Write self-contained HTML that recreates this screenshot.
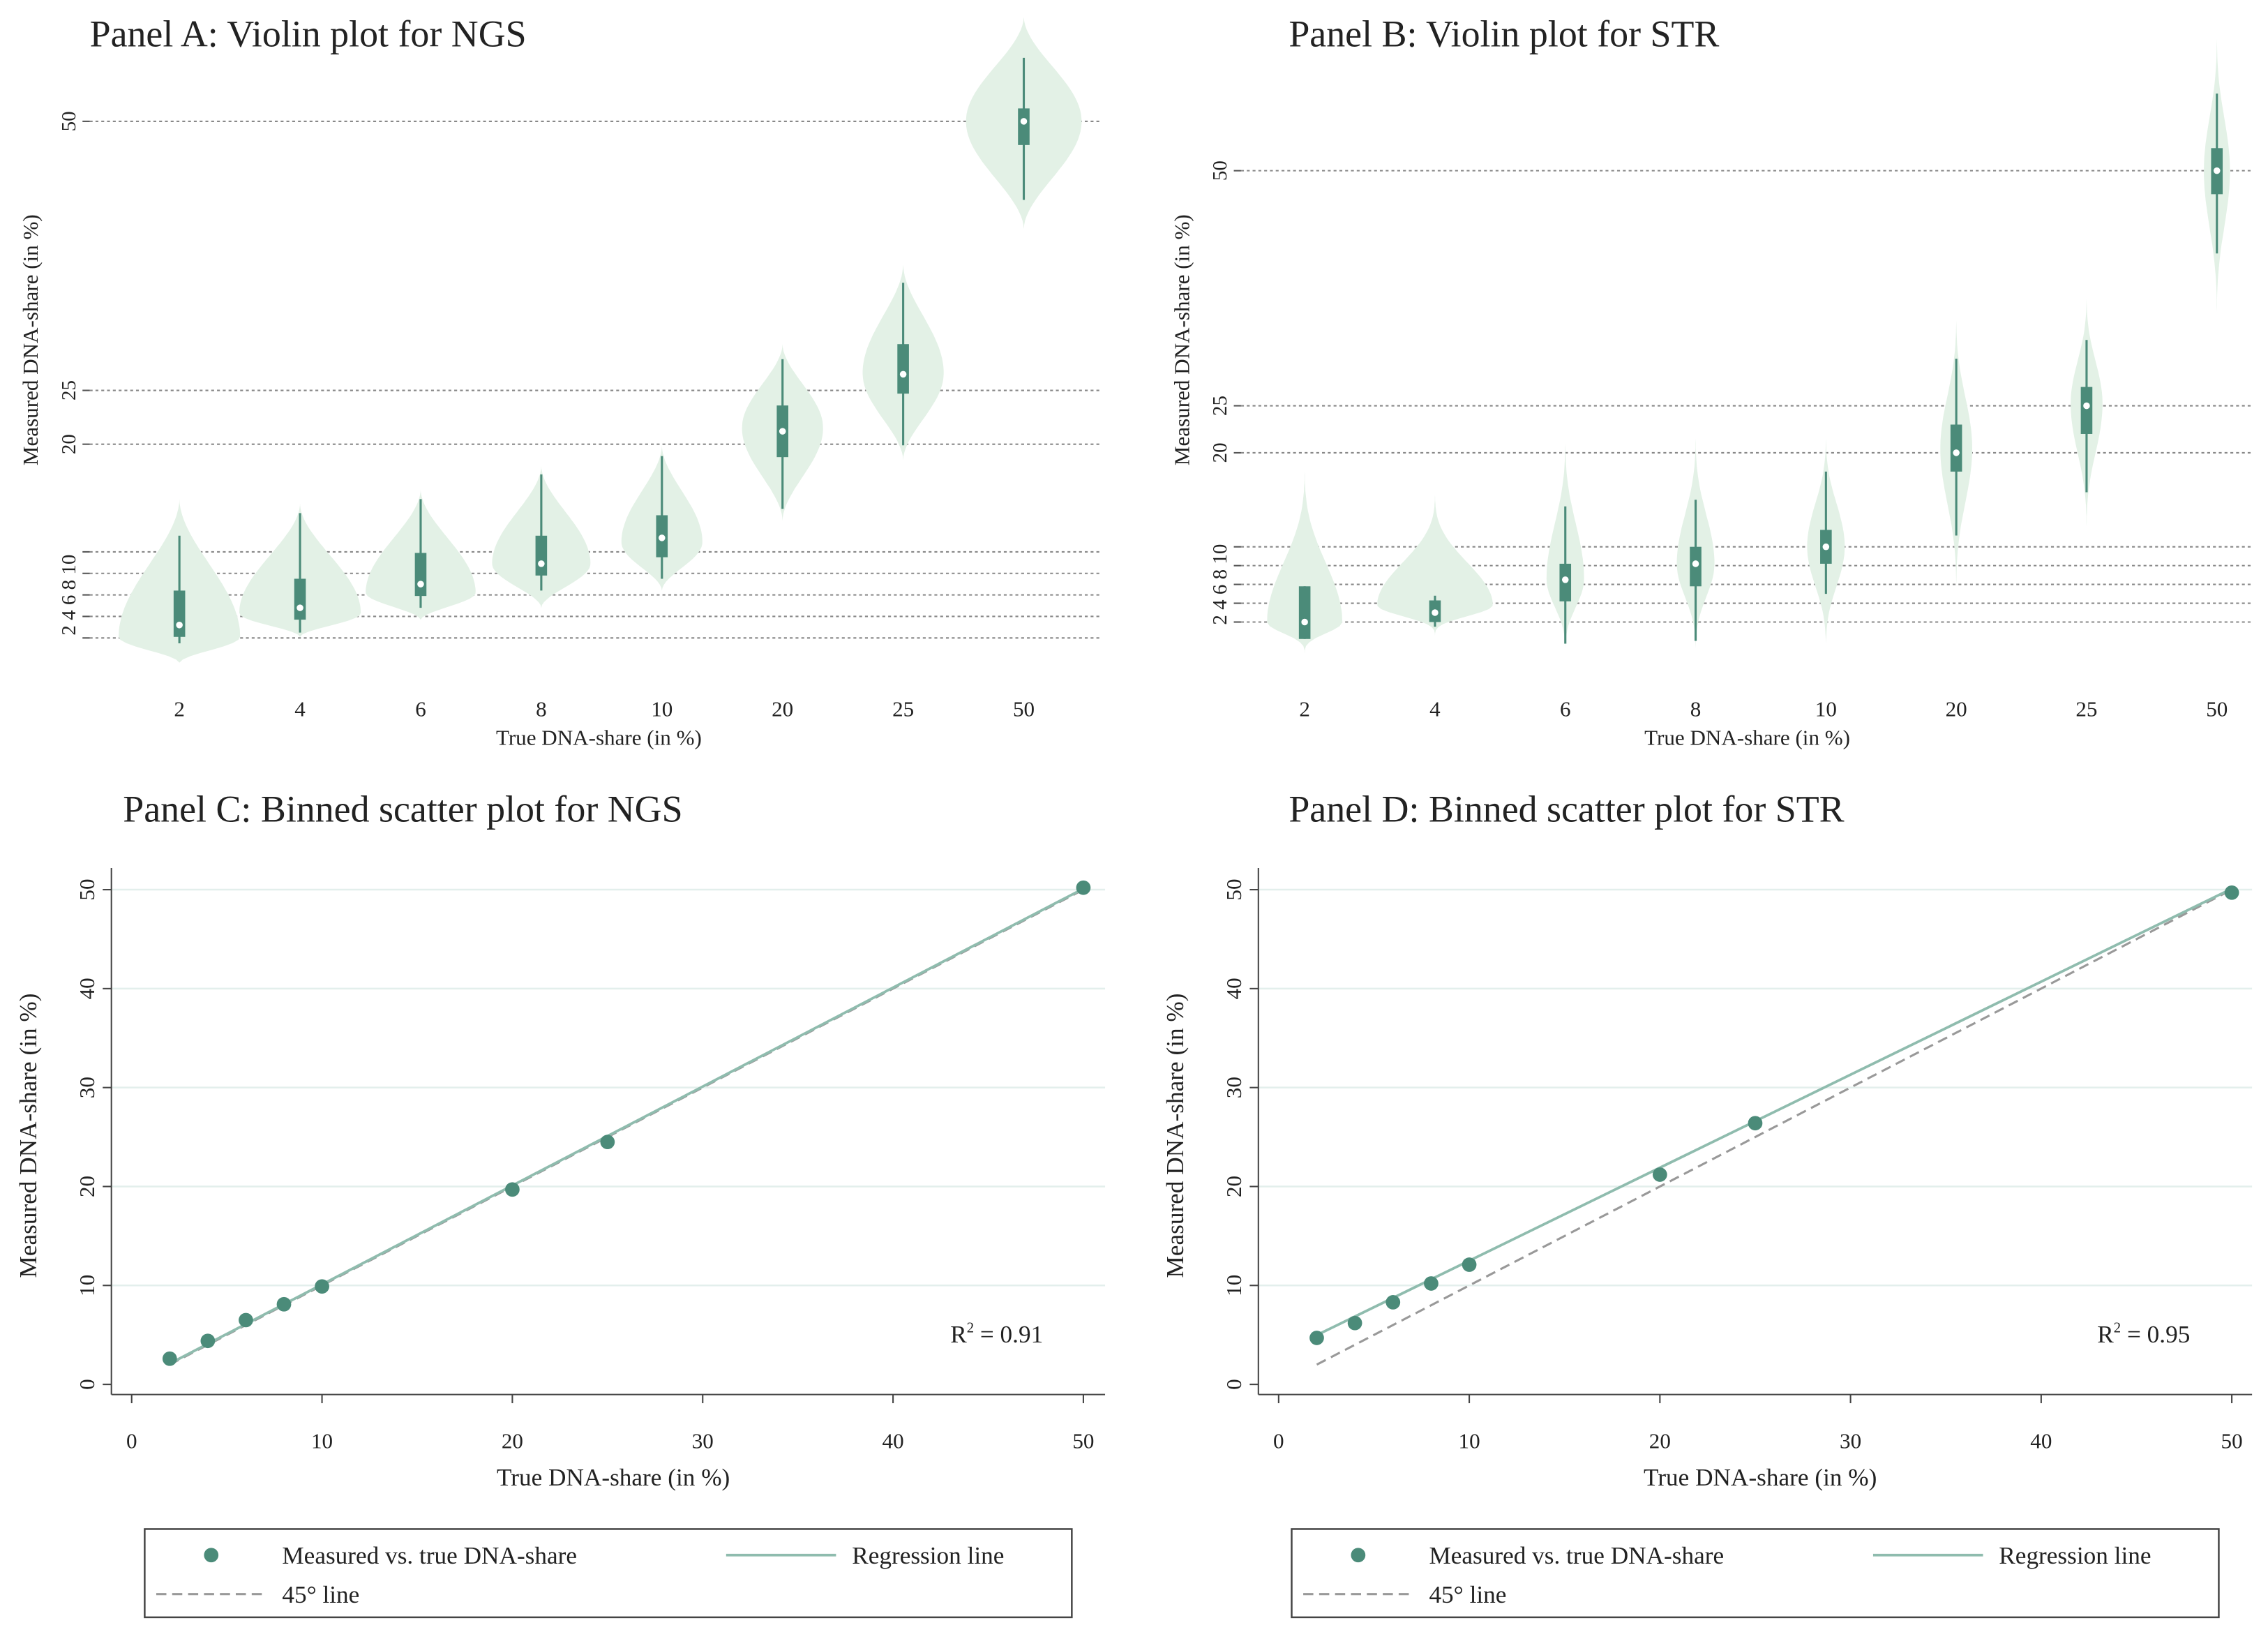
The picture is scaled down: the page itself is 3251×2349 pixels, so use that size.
<!DOCTYPE html>
<html><head><meta charset="utf-8"><style>
html,body{margin:0;padding:0;background:#fff}
svg{display:block}
text{font-family:"Liberation Serif",serif;fill:#222}
</style></head><body>
<svg id="fig" width="3251" height="2349" viewBox="0 0 1568 1133" xmlns="http://www.w3.org/2000/svg">
<rect width="1568" height="1133" fill="#fff"/>
<g id="root"></g>
</svg>
<script>
// ---------- Data ----------
const cats = ["2","4","6","8","10","20","25","50"];
const yTicksViolin = [2,4,6,8,10,20,25,50];
// Panel A (NGS) violin summaries
const ngsMed = [3.2,4.8,7.0,8.9,11.3,21.2,26.5,50];
const ngsQ1 = [2.1,3.7,5.9,7.8,9.5,18.8,24.7,47.8];
const ngsQ3 = [6.4,7.5,9.9,11.5,13.4,23.6,29.3,51.2];
const ngsWLo = [1.5,2.5,4.8,6.4,7.5,14.0,19.9,42.7];
const ngsWHi = [11.5,13.6,14.9,17.2,18.9,27.9,35.0,55.9];
const ngsVLo = [-0.3,2.1,3.7,4.8,6.4,12.9,18.5,40.0];
const ngsVHi = [14.9,14.5,15.8,18.0,19.9,29.3,36.7,59.7];
const ngsPeak = [2.1,4.3,6.2,8.9,10.9,21.5,26.6,50];
const ngsWidth = [42,42,38,34,28,28,28,40];
// Panel B (STR) violin summaries
const strMed = [2.0,3.0,6.5,8.2,10.0,20.0,25.0,50];
const strQ1 = [0.2,2.0,4.2,5.8,8.2,18.0,22.0,47.5];
const strQ3 = [5.8,4.3,8.2,10.0,11.8,23.0,27.0,52.4];
const strWLo = [0.2,1.5,-0.3,0.0,5.0,11.2,15.8,41.2];
const strWHi = [5.8,4.8,14.3,15.0,18.0,30.0,32.0,58.2];
const strVLo = [-1.4,0.5,-1.8,-1.8,-1.8,4.0,10.5,33.0];
const strVHi = [19.7,16.5,23.0,23.0,23.0,36.0,38.0,66.0];
const strPeak = [2.0,3.8,6.6,8.2,10.0,20.5,25.2,50];
const strWidth = [26,40,13,13,13,11,11,9];
// Panel C / D binned scatter
const trueX = [2,4,6,8,10,20,25,50];
const ngsY = [2.6,4.4,6.5,8.1,9.9,19.7,24.5,50.2];
const strY = [4.7,6.2,8.3,10.2,12.1,21.2,26.4,49.7];
const ngsReg = [0.1,1.0];
const strReg = [3.1,0.94];
const scatterTicks = [0,10,20,30,40,50];
const r2 = ["0.91","0.95"];

// ---------- Helpers ----------
const NS="http://www.w3.org/2000/svg";
const root=document.getElementById('root');
function el(tag,attrs,parent,txt){const e=document.createElementNS(NS,tag);for(const k in attrs)e.setAttribute(k,attrs[k]);if(txt!==undefined)e.textContent=txt;(parent||root).appendChild(e);return e;}
const DARK="#4b8b79", LIGHT="#e3f1e6";

function violinPanel(cfg){
  const g=el('g',{});
  
  
  const ys=v=>cfg.y2-(v-2)*cfg.ys;
  const xs=i=>cfg.x0+i*cfg.dx;
  let t=el('text',{x:cfg.tx,y:32,'font-size':26},g,cfg.title);
  
  yTicksViolin.forEach(v=>{
    const l=el('line',{x1:cfg.gx1,x2:cfg.gx2,y1:ys(v),y2:ys(v),stroke:'#888','stroke-width':1,'stroke-dasharray':'2,2'},g);
    
    const tk=el('line',{x1:cfg.gx1-5,x2:cfg.gx1,y1:ys(v),y2:ys(v),stroke:'#555'},g);
    
  });
  yTicksViolin.forEach(v=>{
    const s=(v>=20)?String(v):null;
    if(s){const tt=el('text',{x:0,y:0,'font-size':14,'text-anchor':'middle',transform:`translate(${cfg.gx1-10},${ys(v)}) rotate(-90)`},g,s);
      }
  });
  const small=el('text',{x:0,y:0,'font-size':14,'text-anchor':'middle',transform:`translate(${cfg.gx1-10},${(ys(2)+ys(10))/2}) rotate(-90)`},g,'2 4 6 8 10');
  
  const yt=el('text',{x:0,y:0,'font-size':15,'text-anchor':'middle',transform:`translate(${cfg.gx1-36},${cfg.ytitleY}) rotate(-90)`},g,'Measured DNA-share (in %)');
  
  const d=cfg.d;
  cats.forEach((c,i)=>{
    const cx=xs(i);
    const lo=d.vlo[i],hi=d.vhi[i],pk=d.peak[i],hw=d.w[i];
    const N=50;let right=[],left=[];
    for(let k=0;k<=N;k++){
      const v=lo+(hi-lo)*k/N;
      let f=v<=pk?(pk-lo>0?(v-lo)/(pk-lo):1):(hi-pk>0?(hi-v)/(hi-pk):1);
      f=Math.max(0,Math.min(1,f));
      const w=hw*Math.pow(Math.sin(Math.PI/2*f),cfg.pw);
      right.push([cx+w,ys(v)]);left.push([cx-w,ys(v)]);
    }
    const pts=right.concat(left.reverse()).map(p=>p[0].toFixed(1)+','+p[1].toFixed(1)).join(' ');
    const vp=el('polygon',{points:pts,fill:LIGHT,stroke:'none'},g);
    
    const wl=el('line',{x1:cx,x2:cx,y1:ys(d.wlo[i]),y2:ys(d.whi[i]),stroke:DARK,'stroke-width':1.5},g);
    
    const bx=el('rect',{x:cx-4,y:ys(d.q3[i]),width:8,height:ys(d.q1[i])-ys(d.q3[i]),fill:DARK},g);
    
    const md=el('circle',{cx:cx,cy:ys(d.med[i]),r:2.3,fill:'#fff'},g);
    
    const xl=el('text',{x:cx,y:495,'font-size':15,'text-anchor':'middle'},g,c);
    
  });
  const xt=el('text',{x:cfg.xtitleX,y:515,'font-size':15,'text-anchor':'middle'},g,'True DNA-share (in %)');
  
}

violinPanel({name:'panel-a-violin-ngs',title:'Panel A: Violin plot for NGS',tx:62,y2:441,ys:7.44,x0:124,dx:83.4,gx1:62,gx2:762,ytitleY:235,xtitleX:414,pw:1.8,
  d:{med:ngsMed,q1:ngsQ1,q3:ngsQ3,wlo:ngsWLo,whi:ngsWHi,vlo:ngsVLo,vhi:ngsVHi,peak:ngsPeak,w:ngsWidth}});
violinPanel({name:'panel-b-violin-str',title:'Panel B: Violin plot for STR',tx:891,y2:430,ys:6.5,x0:902,dx:90.1,gx1:858,gx2:1557,ytitleY:235,xtitleX:1208,pw:3.5,
  d:{med:strMed,q1:strQ1,q3:strQ3,wlo:strWLo,whi:strWHi,vlo:strVLo,vhi:strVHi,peak:strPeak,w:strWidth}});

function scatterPanel(cfg){
  const g=el('g',{});
  
  
  const xs=v=>cfg.x0+v*cfg.kx, ys=v=>957-v*6.84;
  const t=el('text',{x:cfg.tx,y:568,'font-size':26},g,cfg.title);
  
  const axL=cfg.x0-14, axR=cfg.x0+673, axB=964;
  scatterTicks.forEach(v=>{
    if(v>0){const gl=el('line',{x1:axL,x2:axR,y1:ys(v),y2:ys(v),stroke:'#e3efec','stroke-width':1.2},g);
      }
    const tk=el('line',{x1:axL-6,x2:axL,y1:ys(v),y2:ys(v),stroke:'#444'},g);
    
    const tl=el('text',{x:0,y:0,'font-size':15,'text-anchor':'middle',transform:`translate(${axL-12},${ys(v)}) rotate(-90)`},g,String(v));
    
    const xk=el('line',{x1:xs(v),x2:xs(v),y1:axB,y2:axB+6,stroke:'#444'},g);
    
    const xl=el('text',{x:xs(v),y:1001,'font-size':15,'text-anchor':'middle'},g,String(v));
    
  });
  const ya=el('line',{x1:axL,x2:axL,y1:600,y2:axB,stroke:'#444'},g);
  
  const xa=el('line',{x1:axL,x2:axR,y1:axB,y2:axB,stroke:'#444'},g);
  
  const yt=el('text',{x:0,y:0,'font-size':17,'text-anchor':'middle',transform:`translate(${axL-52},785) rotate(-90)`},g,'Measured DNA-share (in %)');
  
  const xt=el('text',{x:cfg.x0+333,y:1027,'font-size':17,'text-anchor':'middle'},g,'True DNA-share (in %)');
  
  const x1=trueX[0],x2=trueX[trueX.length-1];
  const dl=el('line',{x1:xs(x1),y1:ys(x1),x2:xs(x2),y2:ys(x2),stroke:'#999','stroke-width':1.5,'stroke-dasharray':'7,4'},g);
  
  const r=cfg.reg;
  const rl=el('line',{x1:xs(x1),y1:ys(r[0]+r[1]*x1),x2:xs(x2),y2:ys(r[0]+r[1]*x2),stroke:'#8fbcae','stroke-width':1.8},g);
  
  trueX.forEach((x,i)=>{
    const p=el('circle',{cx:xs(x),cy:ys(cfg.y[i]),r:5,fill:DARK},g);
    
  });
  const rt=el('text',{x:cfg.x0+566,y:928,'font-size':17},g);
  
  rt.innerHTML='R<tspan dy="-7" font-size="10">2</tspan><tspan dy="7"> = '+cfg.r2+'</tspan>';
  const lx=cfg.x0+9;
  const lg=el('g',{},g);
  
  el('rect',{x:lx,y:1057,width:641,height:61,fill:'#fff',stroke:'#444','stroke-width':1.2},lg);
  const m=el('circle',{cx:lx+46,cy:1075,r:5,fill:DARK},lg);
  
  const a=el('text',{x:lx+95,y:1081,'font-size':17},lg,'Measured vs. true DNA-share');
  
  const ml=el('line',{x1:lx+402,x2:lx+478,y1:1075,y2:1075,stroke:'#8fbcae','stroke-width':1.8},lg);
  
  const b=el('text',{x:lx+489,y:1081,'font-size':17},lg,'Regression line');
  
  const dd=el('line',{x1:lx+8,x2:lx+85,y1:1102,y2:1102,stroke:'#999','stroke-width':1.5,'stroke-dasharray':'7,4'},lg);
  
  const c=el('text',{x:lx+95,y:1108,'font-size':17},lg,'45° line');
  
}
scatterPanel({name:'panel-c-scatter-ngs',title:'Panel C: Binned scatter plot for NGS',tx:85,x0:91,kx:13.16,y:ngsY,reg:ngsReg,r2:r2[0]});
scatterPanel({name:'panel-d-scatter-str',title:'Panel D: Binned scatter plot for STR',tx:891,x0:884,kx:13.18,y:strY,reg:strReg,r2:r2[1]});
</script>
</body></html>
